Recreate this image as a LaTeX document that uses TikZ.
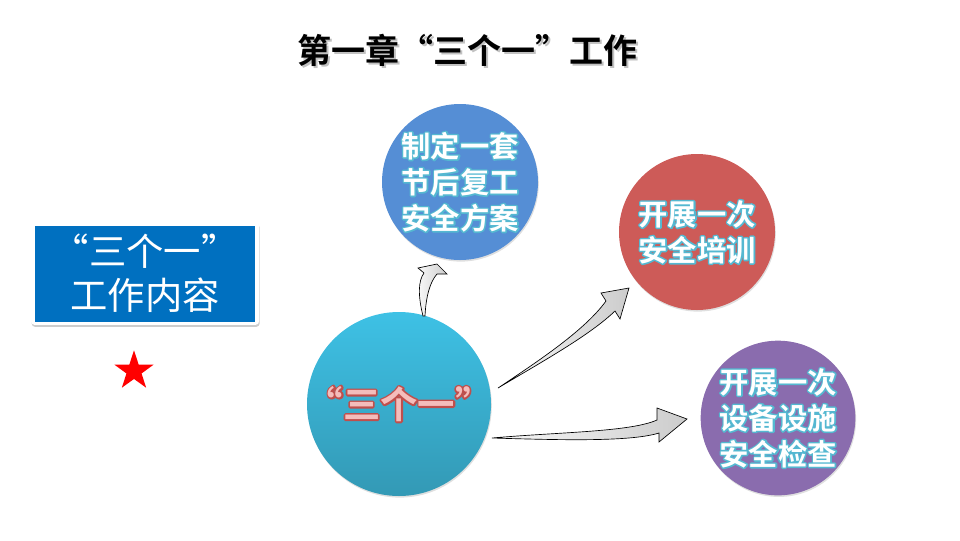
\documentclass[tikz,border=0pt]{standalone}
\usepackage{fontspec}
\setmainfont{Noto Sans CJK SC}[BoldFont={Noto Sans CJK SC Bold}]
\usetikzlibrary{shapes.geometric,shadows}
\definecolor{boxblue}{HTML}{0070C0}
\definecolor{planblue}{HTML}{558ED5}
\definecolor{trainred}{HTML}{CD5B58}
\definecolor{checkpurple}{HTML}{8A6CAE}
\definecolor{coretop}{HTML}{3EC1E5}
\definecolor{corebottom}{HTML}{3399B5}
\definecolor{corepink}{HTML}{F4BDBB}
% outlined text: a stroked copy ("r g b RG width w") under the filled one
\newcommand{\strokedline}[2]{\rlap{\special{pdf:literal direct #1 1 j 1 Tr}#2\special{pdf:literal direct 0 Tr}}#2}
\newcommand{\glowline}[1]{\strokedline{0.33 0.72 0.82 RG 2.2 w}{#1}}
\tikzset{
  ring/.style={circle, inner sep=0pt, minimum size=#1,
    drop shadow={opacity=0.25, shadow xshift=0.6pt, shadow yshift=-1.2pt}},
  ringtext/.style={align=center, text=white, font=\bfseries\fontsize{22}{27}\selectfont},
  bentarrow/.style={draw=black, line width=0.5pt, left color=gray!5, right color=gray!40}
}
\begin{document}
\begin{tikzpicture}[x=0.75pt, y=-0.75pt]
\useasboundingbox (0,0) rectangle (960,540);
% title with a soft shadow
\node[text=gray!70, opacity=0.7, font=\bfseries\fontsize{25.5}{30}\selectfont] at (469,52) {第一章“三个一”工作};
\node[font=\bfseries\fontsize{25.5}{30}\selectfont] (title) at (467,50) {第一章“三个一”工作};
% content box on the left
\node[fill=white, rounded corners=2.5pt, minimum width=171pt, minimum height=77pt,
  drop shadow={opacity=0.4, shadow xshift=0.5pt, shadow yshift=-1.5pt}] (frame) at (145,273.5) {};
\node[fill=boxblue, minimum width=165pt, minimum height=72pt] (content) at (frame) {};
\node[text=white, align=center, font=\fontsize{28}{33}\selectfont] at (content) {“三个一”\\工作内容};
\node[star, star points=5, star point ratio=2.6, fill=red, inner sep=0pt, minimum size=31pt] (mark) at (134,371) {};
% the four circles
\node[ring=138pt, top color=coretop, bottom color=corebottom] (core) at (399,404) {};
\node[ring=117pt, fill=planblue] (plan) at (460,182) {};
\node[ring=117pt, fill=trainred] (train) at (697,232) {};
\node[ring=116pt, fill=checkpurple] (check) at (778,418) {};
\node[font=\bfseries\fontsize{28}{33}\selectfont, text=corepink] at (core) {\strokedline{0.75 0.31 0.30 RG 2.6 w}{“三个一”}};
\node[ringtext] at (plan) {\glowline{制定一套}\\\glowline{节后复工}\\\glowline{安全方案}};
\node[ringtext] at (train) {\glowline{开展一次}\\\glowline{安全培训}};
\node[ringtext] at (check) {\glowline{开展一次}\\\glowline{设备设施}\\\glowline{安全检查}};
% curved block arrows
\draw[bentarrow] (423,316) .. controls (418,296) and (418,281) .. (424,273) -- (418,268) -- (437,264)
  -- (447,274) -- (437,274) .. controls (430,282) and (426,296) .. (425,316) -- cycle;
\draw[bentarrow] (498,388) .. controls (540,360) and (585,330) .. (606,301) -- (601,293) -- (629,288)
  -- (620,319) -- (615,311) .. controls (590,335) and (545,360) .. (498,388) -- cycle;
\draw[bentarrow] (492,438) .. controls (560,432) and (630,432) .. (657,420) -- (657,408) -- (687,419)
  -- (659,442) -- (659,433) .. controls (630,442) and (560,440) .. (492,438) -- cycle;
\end{tikzpicture}
\end{document}
